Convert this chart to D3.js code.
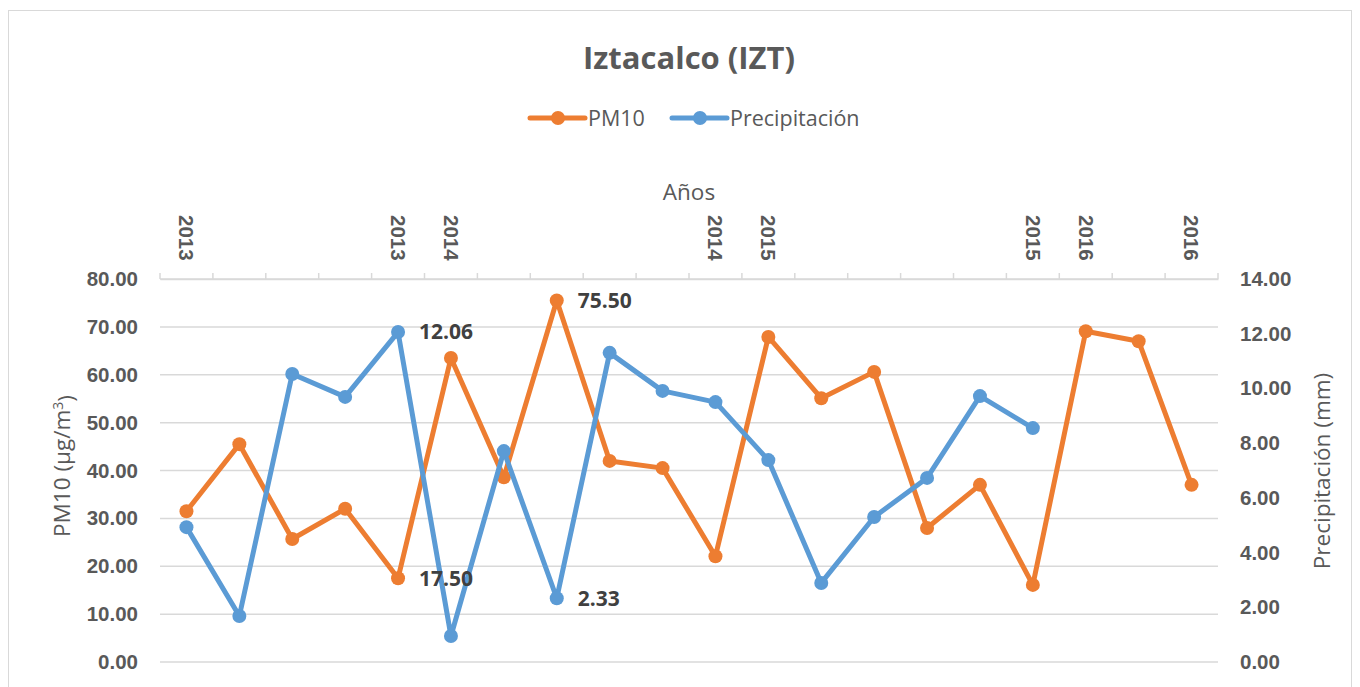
<!DOCTYPE html>
<html>
<head>
<meta charset="utf-8">
<script src="https://cdn.jsdelivr.net/npm/d3@7"></script>
<style>
  body { margin: 0; background: #fff; }
  svg { font-family: "Open Sans", sans-serif; }
</style>
</head>
<body>
<svg id="chart" width="1360" height="687"></svg>
<script>
// Category labels on the top axis (blank where Excel skipped a label)
const yearLabels = ["2013", "", "", "", "2013", "2014", "", "", "", "", "2014", "2015", "", "", "", "", "2015", "2016", "", "2016"];
// PM10 (µg/m3), left axis
const pm10 = [31.5, 45.5, 25.7, 32.0, 17.5, 63.5, 38.6, 75.5, 42.0, 40.5, 22.1, 67.9, 55.1, 60.6, 28.0, 37.0, 16.1, 69.1, 67.0, 37.0];
// Precipitación (mm), right axis
const precip = [4.93, 1.68, 10.53, 9.69, 12.06, 0.95, 7.71, 2.33, 11.30, 9.91, 9.50, 7.38, 2.89, 5.30, 6.73, 9.72, 8.55, null, null, null];
// Points that carry a data label
const pmLabelled = [4, 7];
const prLabelled = [4, 7];

const svg = d3.select("#chart");
const W = 1360, H = 687;
const margin = { top: 279, right: 142, bottom: 25, left: 160 };
const width = W - margin.left - margin.right,
      height = H - margin.top - margin.bottom;

// chart border
svg.append("rect")
  .attr("x", 8.5).attr("y", 10.5)
  .attr("width", 1343).attr("height", 700)
  .attr("fill", "none").attr("stroke", "#d9d9d9");

const g = svg.append("g").attr("transform", `translate(${margin.left},${margin.top})`);

const idx = d3.range(yearLabels.length);
const x = d3.scaleBand().domain(idx).range([0, width]);
const yL = d3.scaleLinear().domain([0, 80]).range([height, 0]);
const yR = d3.scaleLinear().domain([0, 14]).range([height, 0]);

// gridlines
g.append("g")
  .selectAll("line")
  .data(yL.ticks(8))
  .join("line")
  .attr("x1", 0).attr("x2", width)
  .attr("y1", d => yL(d)).attr("y2", d => yL(d))
  .attr("stroke", "#d9d9d9").attr("stroke-width", 1.5);

// left axis
const leftAxis = g.append("g")
  .call(d3.axisLeft(yL).ticks(8).tickSize(0).tickPadding(22).tickFormat(d3.format(".2f")));
leftAxis.select(".domain").remove();
leftAxis.selectAll("text")
  .style("font-size", "20.5px").style("font-weight", "bold").attr("fill", "#595959");

// right axis
const rightAxis = g.append("g")
  .attr("transform", `translate(${width},0)`)
  .call(d3.axisRight(yR).ticks(7).tickSize(0).tickPadding(22).tickFormat(d3.format(".2f")));
rightAxis.select(".domain").remove();
rightAxis.selectAll("text")
  .style("font-size", "20.5px").style("font-weight", "bold").attr("fill", "#595959");

// top category axis
const topAxis = g.append("g")
  .call(d3.axisTop(x).tickSize(0).tickFormat(i => yearLabels[i]));
topAxis.select(".domain").attr("stroke", "#d9d9d9").attr("stroke-width", 1.5);
topAxis.selectAll("text")
  .attr("transform", "rotate(90)")
  .attr("x", -64).attr("y", 0).attr("dy", "0.35em")
  .style("text-anchor", "start")
  .style("font-size", "20.5px").style("font-weight", "bold").attr("fill", "#595959");
// tick marks at band boundaries
g.append("g")
  .selectAll("line")
  .data(d3.range(yearLabels.length + 1))
  .join("line")
  .attr("x1", i => i * x.step()).attr("x2", i => i * x.step())
  .attr("y1", 0).attr("y2", -6)
  .attr("stroke", "#d9d9d9").attr("stroke-width", 1.5);

const cx = i => x(i) + x.bandwidth() / 2;

function drawSeries(values, scale, color) {
  const pts = values.map((v, i) => ({ i, v })).filter(d => d.v != null);
  g.append("path")
    .datum(pts)
    .attr("fill", "none").attr("stroke", color).attr("stroke-width", 5)
    .attr("stroke-linejoin", "round")
    .attr("d", d3.line().x(d => cx(d.i)).y(d => scale(d.v)));
  g.append("g")
    .selectAll("circle")
    .data(pts)
    .join("circle")
    .attr("cx", d => cx(d.i)).attr("cy", d => scale(d.v))
    .attr("r", 7).attr("fill", color);
}
drawSeries(pm10, yL, "#ED7D31");
drawSeries(precip, yR, "#5B9BD5");

// data labels
function drawLabels(values, scale, which) {
  g.append("g")
    .selectAll("text")
    .data(which)
    .join("text")
    .attr("x", i => cx(i) + 21).attr("y", i => scale(values[i]))
    .attr("dy", "0.35em")
    .style("font-size", "21px").style("font-weight", "bold").attr("fill", "#404040")
    .text(i => values[i].toFixed(2));
}
drawLabels(pm10, yL, pmLabelled);
drawLabels(precip, yR, prLabelled);

// title
svg.append("text")
  .attr("x", 689).attr("y", 58).attr("dy", "0.35em")
  .attr("text-anchor", "middle")
  .style("font-size", "31px").style("font-weight", "bold").attr("fill", "#595959")
  .text("Iztacalco (IZT)");

// axis titles
svg.append("text")
  .attr("x", 689).attr("y", 192).attr("dy", "0.35em")
  .attr("text-anchor", "middle")
  .style("font-size", "22.5px").attr("fill", "#595959")
  .text("Años");

const yTitle = svg.append("text")
  .attr("transform", "translate(62,466) rotate(-90)")
  .attr("dy", "0.35em")
  .attr("text-anchor", "middle")
  .style("font-size", "22.5px").attr("fill", "#595959");
yTitle.append("tspan").text("PM10 (µg/m");
yTitle.append("tspan").attr("dy", "-0.5em").style("font-size", "14px").text("3");
yTitle.append("tspan").attr("dy", "0.5em").text(")");

svg.append("text")
  .attr("transform", "translate(1322,471) rotate(-90)")
  .attr("dy", "0.35em")
  .attr("text-anchor", "middle")
  .style("font-size", "22.5px").attr("fill", "#595959")
  .text("Precipitación (mm)");

// legend
const legendItems = [
  { name: "PM10", color: "#ED7D31", x: 530 },
  { name: "Precipitación", color: "#5B9BD5", x: 672 }
];
const legend = svg.append("g").attr("transform", "translate(0,118)");
legendItems.forEach(d => {
  legend.append("line")
    .attr("x1", d.x).attr("x2", d.x + 55).attr("y1", 0).attr("y2", 0)
    .attr("stroke", d.color).attr("stroke-width", 5).attr("stroke-linecap", "round");
  legend.append("circle").attr("cx", d.x + 28).attr("cy", 0).attr("r", 7).attr("fill", d.color);
  legend.append("text")
    .attr("x", d.x + 58).attr("y", 0).attr("dy", "0.35em")
    .style("font-size", "21.5px").attr("fill", "#595959")
    .text(d.name);
});
</script>
</body>
</html>
